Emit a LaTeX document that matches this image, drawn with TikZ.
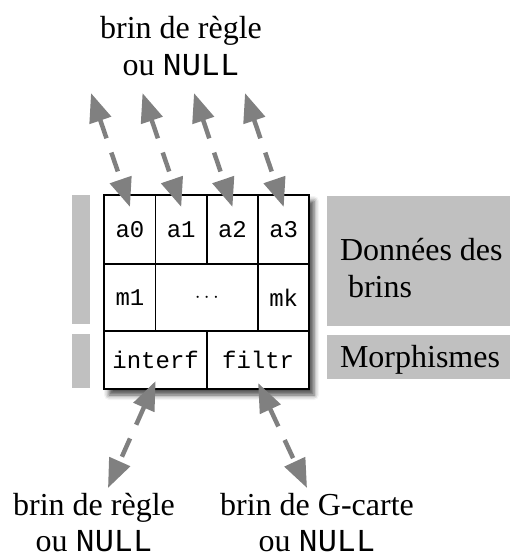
\documentclass[tikz,border=0pt]{standalone}
\usepackage{fontspec}
\setmainfont{Liberation Serif}
\setmonofont{Liberation Mono}
\usepackage{tikz}
\usetikzlibrary{arrows.meta,positioning,calc,shadows.blur}
\definecolor{bandgrey}{HTML}{C0C0C0}
\definecolor{arrowgrey}{HTML}{808080}

\begin{document}
\begin{tikzpicture}[
  x=1pt,y=-1pt,
  font=\fontsize{32}{36}\selectfont,
  cell/.style={draw,line width=1.6pt,inner sep=0pt,outer sep=0pt,minimum width=51.25pt,font=\fontsize{24}{28}\selectfont\ttfamily},
  cadre/.style={draw,line width=2.2pt,fill=white,inner sep=0pt,minimum width=205pt,minimum height=194pt,
    blur shadow={shadow xshift=5pt,shadow yshift=-6pt,shadow blur radius=5pt,shadow opacity=70}},
  band/.style={fill=bandgrey,inner sep=0pt},
  lbl/.style={align=center,inner sep=0pt,anchor=north},
  arr/.style={{Triangle[length=29pt,width=22pt]}-{Triangle[length=29pt,width=22pt]},draw=arrowgrey,line width=4.5pt,dash pattern=on 20pt off 15pt}
]
\useasboundingbox (0,0) rectangle (510,558);

% grey bands
\node[band,minimum width=18pt,minimum height=129pt] (gd) at (81,259.5) {};
\node[band,minimum width=18pt,minimum height=54pt] (gm) at (81,361) {};
\node[band,minimum width=183pt,minimum height=130pt] (bd) at (418.5,261) {};
\node[band,minimum width=183pt,minimum height=44pt] (bm) at (418.5,357) {};
\node[inner sep=0pt,align=left,anchor=north west,font=\fontsize{32}{37}\selectfont] (td) at ([xshift=13pt,yshift=-42pt]bd.north west) {Données des\\~brins};
\node[inner sep=0pt,anchor=base west] (tm) at ([xshift=13pt,yshift=-10pt]bm.west) {Morphismes};

% structure
\node[cadre] (frame) at (206.5,292) {};
\node[cell,minimum height=69pt] (a0) at (130,229.5) {a0};
\node[cell,minimum height=69pt,right=0pt of a0] (a1) {a1};
\node[cell,minimum height=69pt,right=0pt of a1] (a2) {a2};
\node[cell,minimum height=69pt,right=0pt of a2] (a3) {a3};
\node[cell,minimum height=67pt,below=0pt of a0] (m1) {m1};
\node[cell,minimum height=67pt,minimum width=102.5pt,right=0pt of m1,font=\fontsize{21}{24}\selectfont] (dots) {$\cdots$};
\node[cell,minimum height=67pt,right=0pt of dots] (mk) {mk};
\node[cell,minimum height=58pt,minimum width=102.5pt,anchor=north west] (interf) at (m1.south west) {interf};
\node[cell,minimum height=58pt,minimum width=102.5pt,right=0pt of interf] (filtr) {filtr};

% labels
\node[lbl,font=\fontsize{32}{37}\selectfont] (top) at (181,16) {brin de règle\\ou \texttt{NULL}};
\node[lbl] (regle) at (94,493) {brin de règle\\ou \texttt{NULL}};
\node[lbl] (gcarte) at (317,493) {brin de G-carte\\ou \texttt{NULL}};

% links
\coordinate (h0) at (91,93);
\coordinate (h1) at (142.5,93);
\coordinate (h2) at (194,93);
\coordinate (h3) at (245,93);
\coordinate (b0) at (108,488);
\coordinate (b1) at (307,488);
\draw[arr] (h0) -- ([yshift=-12pt]a0.north);
\draw[arr] (h1) -- ([yshift=-12pt]a1.north);
\draw[arr] (h2) -- ([yshift=-12pt]a2.north);
\draw[arr] (h3) -- ([yshift=-12pt]a3.north);
\draw[arr] ([yshift=8pt]interf.south) -- (b0);
\draw[arr] ([yshift=6pt]filtr.south) -- (b1);
\end{tikzpicture}
\end{document}
